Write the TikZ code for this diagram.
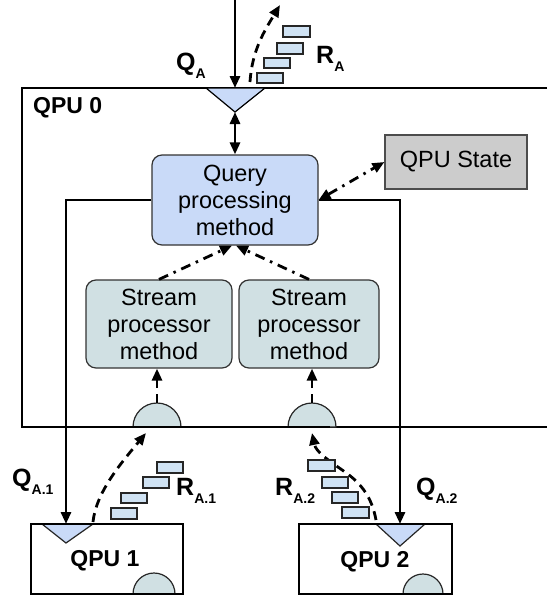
\documentclass[tikz,border=0pt]{standalone}
\usepackage{fontspec}
\setmainfont{Liberation Sans}
\usetikzlibrary{arrows.meta}
\definecolor{triblue}{HTML}{C9DAF8}
\definecolor{qpmblue}{HTML}{C9DAF8}
\definecolor{spgray}{HTML}{D0E0E3}
\definecolor{stategray}{HTML}{CCCCCC}
\definecolor{pktblue}{HTML}{CFE2F3}
\newcommand\qlab[2]{\textbf{#1}\raisebox{-8pt}{\fontsize{14}{14}\selectfont\textbf{#2}}}
\begin{document}
\begin{tikzpicture}[x=1pt,y=-1pt,
  every node/.style={font=\fontsize{23.5}{27}\selectfont},
  ln/.style={line width=2.9pt, draw=black},
  tip/.style={-{Triangle[length=12pt,width=10pt]}},
  dbl/.style={{Triangle[length=12pt,width=10pt]}-{Triangle[length=12pt,width=10pt]}},
  dashline/.style={line width=2.8pt, dash pattern=on 9pt off 6pt},
  dashdot/.style={line width=2.8pt, dash pattern=on 10pt off 6pt on 2.5pt off 6pt},
  rbox/.style={draw=black!80, line width=1.2pt, rounded corners=10pt, align=center, inner sep=2pt},
  pkt/.style={draw=black!85, fill=pktblue, line width=1.5pt},
  lbl/.style={anchor=base west, inner sep=0pt, font=\fontsize{25}{28}\selectfont},
  boxlbl/.style={inner sep=0pt, font=\bfseries\fontsize{23}{26}\selectfont}
  ]
\useasboundingbox (0,0) rectangle (547,597);

% QPU 0 outer box (open on the right)
\draw[ln] (547,88) -- (22,88) -- (22,427) -- (547,427);
\node[boxlbl, anchor=base west] (qpu0) at (33,113) {QPU 0};

% top triangle
\draw[ln, fill=triblue, line width=1.2pt] (206,88) -- (265,88) -- (235,112) -- cycle;
\coordinate (ttop) at (235,88);
\coordinate (tapex) at (235,112);
\coordinate (qin) at (235,0);

% nodes
\node[rbox, fill=qpmblue, minimum width=166pt, minimum height=90pt] (qpm) at (235,200) {Query\\processing\\method};
\node[draw=black!70, line width=1.2pt, fill=stategray, minimum width=142pt, minimum height=54pt, inner sep=0pt] (state) at (456,162) {QPU State};
\node[rbox, fill=spgray, minimum width=146pt, minimum height=88pt] (sp1) at (159,324) {Stream\\processor\\method};
\node[rbox, fill=spgray, minimum width=140pt, minimum height=88pt] (sp2) at (309,324) {Stream\\processor\\method};

% semicircles on QPU 0 bottom
\draw[fill=spgray, draw=black!85, line width=1.2pt] (133,427) arc (180:360:24) -- cycle;
\draw[fill=spgray, draw=black!85, line width=1.2pt] (288,427) arc (180:360:24) -- cycle;
\draw[ln] (120,427) -- (330,427);
\coordinate (sc1) at (157,403);
\coordinate (sc2) at (312,403);
\coordinate (sc1b) at (146,433);
\coordinate (sc2b) at (312,433);

% QPU 1 and QPU 2 boxes
\draw[fill=spgray, draw=black!85, line width=1.2pt] (133,594) arc (180:360:21) -- cycle;
\draw[fill=spgray, draw=black!85, line width=1.2pt] (403,594) arc (180:360:20) -- cycle;
\draw[ln] (31,524) rectangle (183,594);
\draw[ln] (299,524) rectangle (452,594);
\node[boxlbl] (qpu1) at (105,561) {QPU 1};
\node[boxlbl] (qpu2) at (375,562) {QPU 2};
\draw[fill=triblue, draw=black!85, line width=1.2pt] (42,524) -- (93,524) -- (66,543) -- cycle;
\draw[fill=triblue, draw=black!85, line width=1.2pt] (376,524) -- (425,524) -- (400,546) -- cycle;
\draw[ln] (31,524) -- (183,524);
\draw[ln] (299,524) -- (452,524);
\coordinate (t1) at (66,524);
\coordinate (t2) at (400,524);
\coordinate (t1r) at (93,522);
\coordinate (t2l) at (376,520);

% query arrows
\draw[ln, tip] (qin) -- (ttop);
\draw[ln, dbl] (tapex) -- (qpm.north);
\draw[ln, tip] (qpm.west) -| (t1);
\draw[ln, tip] (qpm.east) -| (t2);

% dash-dot arrows
\draw[dashdot, dbl] (qpm.east) -- (state.west);
\draw[dashdot, tip] (sp1.north) -- ([xshift=-3pt]qpm.south);
\draw[dashdot, tip] (sp2.north) -- ([xshift=1pt]qpm.south);

% dashed result arrows
\draw[dashline, tip] (sc1) -- (sc1 |- sp1.south);
\draw[dashline, tip] (sc2) -- (sc2 |- sp2.south);
\coordinate (rstart) at (250,82);
\coordinate (rend) at (280,5);
\draw[dashline, tip] (rstart) .. controls (252,50) and (265,30) .. (rend);
\draw[dashline, tip] (t1r) .. controls (96,492) and (122,462) .. (sc1b);
\draw[dashline, tip] (t2l) .. controls (372,498) and (362,484) .. (345,472)
                           .. controls (328,460) and (316,452) .. (sc2b);

% packets
\draw[pkt] (257,73) rectangle (283,83);
\draw[pkt] (264,58) rectangle (290,68);
\draw[pkt] (277,43) rectangle (303,54);
\draw[pkt] (283,26) rectangle (310,37);

\draw[pkt] (157,462) rectangle (183,473);
\draw[pkt] (143,477) rectangle (169,488);
\draw[pkt] (121,493) rectangle (147,503);
\draw[pkt] (111,508) rectangle (137,519);

\draw[pkt] (308,460) rectangle (335,471);
\draw[pkt] (322,477) rectangle (348,488);
\draw[pkt] (332,492) rectangle (358,503);
\draw[pkt] (342,507) rectangle (369,518);

% labels
\node[lbl] (qa) at (176,70) {\qlab{Q}{A}};
\node[lbl] (ra) at (316,63) {\qlab{R}{A}};
\node[lbl] (qa1) at (12,486) {\qlab{Q}{A.1}};
\node[lbl] (ra1) at (176,495) {\qlab{R}{A.1}};
\node[lbl] (ra2) at (275,495) {\qlab{R}{A.2}};
\node[lbl] (qa2) at (416,495) {\qlab{Q}{A.2}};
\end{tikzpicture}
\end{document}
